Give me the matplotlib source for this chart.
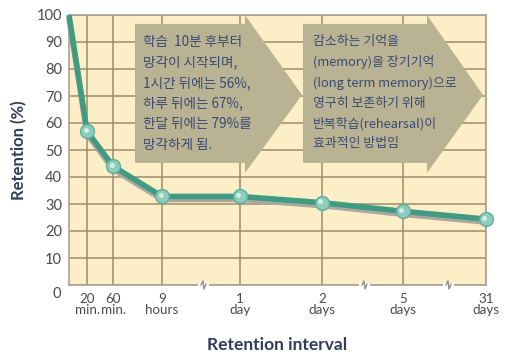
import matplotlib
matplotlib.use("Agg")
import matplotlib.pyplot as plt
from matplotlib.patches import Polygon
from matplotlib.lines import Line2D
from matplotlib.transforms import ScaledTranslation

plt.rcParams['font.family'] = ['Noto Sans CJK KR', 'DejaVu Sans']

# ---- data ----
categories = ["20\nmin.", "60\nmin.", "9\nhours", "1\nday", "2\ndays", "5\ndays", "31\ndays"]
retention = [57, 44, 32.8, 32.8, 30.5, 27.3, 24.4]
start_value = 100
y_ticks = [0, 10, 20, 30, 40, 50, 60, 70, 80, 90, 100]
note_left = "학습  10분 후부터\n망각이 시작되며,\n1시간 뒤에는 56%,\n하루 뒤에는 67%,\n한달 뒤에는 79%를\n망각하게 됨."
note_right = "감소하는 기억을\n(memory)을 장기기억\n(long term memory)으로\n영구히 보존하기 위해\n반복학습(rehearsal)이\n효과적인 방법임"

# layout (non-uniform x-axis positions)
x_pos = [18, 44, 93, 171, 253, 334, 417]
x_start = 0
break_pos = [133, 294, 378]

fig = plt.figure(figsize=(5.18, 3.54), dpi=100)
ax = fig.add_axes([69/518, 1-285/354, 417/518, 270/354])
ax.set_facecolor('#fcefc7')
ax.set_xlim(0, 417)
ax.set_ylim(0, 100)

grid_c = '#9c8c6c'
ax.set_xticks(x_pos)
ax.set_xticklabels(categories, family=['Lato', 'DejaVu Sans'], fontsize=9.6,
                   color='#4a4a4a', linespacing=0.9)
ax.set_yticks(y_ticks)
ax.set_yticklabels([str(v) for v in y_ticks], family=['Lato', 'DejaVu Sans'],
                   fontsize=10.5, color='#4a4a4a')
ax.tick_params(length=0, pad=5)
ax.tick_params(axis='x', pad=6)
ax.grid(True, color=grid_c, linewidth=1.1)
ax.set_axisbelow(True)
for s in ax.spines.values():
    s.set_color('#a8a296')
    s.set_linewidth(1.2)

# shift "0" label a little lower as in reference
lbl0 = ax.get_yticklabels()[0]
lbl0.set_transform(lbl0.get_transform() + ScaledTranslation(-1/100, -8/100, fig.dpi_scale_trans))

# arrows (notes)
arrow_c = '#b9b293'
def block_arrow(x0, x1, xt):
    pts = [(x0, 96.7), (x1, 96.7), (x1, 100), (xt, 70.4), (x1, 41.5), (x1, 45.2), (x0, 45.2)]
    ax.add_patch(Polygon(pts, closed=True, facecolor=arrow_c, edgecolor='none', zorder=2,
                         clip_on=False))
block_arrow(66, 176, 233)
block_arrow(234, 358, 414)

txt_c = '#3b4a72'
ax.text(74, 92.6, note_left, fontsize=9.8, color=txt_c, va='top', ha='left',
        linespacing=1.6, zorder=3)
ax.text(244, 92.6, note_right, fontsize=9.3, color=txt_c, va='top', ha='left',
        linespacing=1.68, zorder=3)

# line with shadow
xs = [x_start] + x_pos
ys = [start_value] + retention
ax.plot(xs, ys, color='#a9a9a2', linewidth=4.0, zorder=4, solid_capstyle='butt',
        transform=ax.transData + ScaledTranslation(0, -3/100, fig.dpi_scale_trans),
        clip_on=False)
ax.plot(xs, ys, color='#3f9b82', linewidth=4.0, zorder=5, solid_capstyle='butt', clip_on=False)
ax.plot(x_pos, retention, linestyle='none', marker='o', markersize=10,
        markerfacecolor='#8ccdbd', markeredgecolor='#5fae98', markeredgewidth=1, zorder=6,
        clip_on=False)
ax.plot(x_pos, retention, linestyle='none', marker='o', markersize=3.5,
        markerfacecolor='#d4efe8', markeredgecolor='none', zorder=7, clip_on=False,
        transform=ax.transData + ScaledTranslation(-1.5/100, 1.5/100, fig.dpi_scale_trans))

# break marks on the x axis
for bx in break_pos:
    off = [(-1, 0), (1, 4), (2, -4), (4, 1)]
    xx = [bx + o[0] for o in off]
    yy = [o[1] / 2.7 for o in off]
    ax.add_line(Line2D([bx - 2, bx + 5], [0, 0], color='white', linewidth=3, clip_on=False, zorder=8))
    ax.add_line(Line2D(xx, yy, color='#8f8f8f', linewidth=1.0, clip_on=False, zorder=9))

ax.set_ylabel('Retention (%)', fontsize=12, fontweight='bold', color='#2e3d5a',
              family=['Lato', 'DejaVu Sans'])
ax.set_xlabel('Retention interval', fontsize=12.5, fontweight='bold', color='#2e3d5a',
              family=['Lato', 'DejaVu Sans'])
ax.xaxis.set_label_coords((277-69)/417, -(337-285)/270)
ax.yaxis.set_label_coords(-(69-27)/417, (285-150)/270)

fig.savefig('out.png', dpi=100, facecolor='white')
